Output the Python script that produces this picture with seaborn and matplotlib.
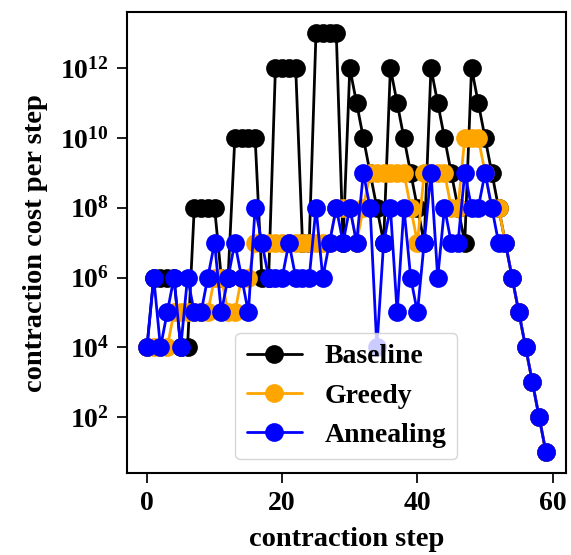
import matplotlib
matplotlib.use("Agg")
import matplotlib.pyplot as plt
import seaborn as sns
import numpy as np
from matplotlib.ticker import LogLocator, NullLocator

steps = list(range(60))

baseline = [1e4, 1e6, 1e6, 1e6, 1e6, 1e4, 1e4, 1e8, 1e8, 1e8, 1e8, 1e6, 1e6,
            1e10, 1e10, 1e10, 1e10, 1e6, 1e6, 1e12, 1e12, 1e12, 1e12, 1e7, 1e7,
            1e13, 1e13, 1e13, 1e13, 1e7,
            1e12, 1e11, 1e10, 1e9, 1e8, 1e7,
            1e12, 1e11, 1e10, 1e9, 1e8, 1e7,
            1e12, 1e11, 1e10, 1e9, 1e8, 1e7,
            1e12, 1e11, 1e10, 1e9, 1e8, 1e7,
            1e6, 1e5, 1e4, 1e3, 1e2, 1e1]

greedy = [1e4, 1e4, 1e4, 1e4, 1e5, 1e5, 1e5, 1e5, 1e5, 1e5, 1e6, 1e6, 1e5,
          1e5, 1e6, 1e6, 1e7, 1e7, 1e7, 1e7, 1e7, 1e7, 1e7, 1e7, 1e7, 1e7,
          1e7, 1e7, 1e8, 1e8, 1e8, 1e7, 1e8, 1e9, 1e9, 1e9, 1e9, 1e9, 1e9,
          1e8, 1e7, 1e9, 1e9, 1e9, 1e9, 1e8, 1e8, 1e10, 1e10, 1e10, 1e9,
          1e8, 1e8, 1e7, 1e6, 1e5, 1e4, 1e3, 1e2, 1e1]

annealing = [1e4, 1e6, 1e4, 1e5, 1e6, 1e4, 1e6, 1e5, 1e5, 1e6, 1e7, 1e5, 1e6,
             1e7, 1e6, 1e5, 1e8, 1e7, 1e6, 1e6, 1e6, 1e7, 1e6, 1e6, 1e6, 1e8,
             1e6, 1e7, 1e8, 1e7, 1e8, 1e7, 1e9, 1e8, 1e4, 1e7, 1e8, 1e5, 1e8,
             1e6, 1e5, 1e7, 1e9, 1e6, 1e8, 1e7, 1e7, 1e9, 1e8, 1e8, 1e9, 1e8,
             1e7, 1e7, 1e6, 1e5, 1e4, 1e3, 1e2, 1e1]

series_names = ["Baseline", "Greedy", "Annealing"]
series_colors = ["black", "orange", "blue"]

sns.set_style("white")
plt.rcParams["font.family"] = ["Liberation Serif", "DejaVu Serif"]
plt.rcParams["font.weight"] = "bold"
plt.rcParams["text.color"] = "black"
plt.rcParams["axes.labelcolor"] = "black"
plt.rcParams["xtick.color"] = "black"
plt.rcParams["ytick.color"] = "black"
plt.rcParams["mathtext.fontset"] = "custom"
plt.rcParams["mathtext.rm"] = "Liberation Serif:bold"
plt.rcParams["mathtext.bf"] = "Liberation Serif:bold"
plt.rcParams["mathtext.it"] = "Liberation Serif:bold:italic"
plt.rcParams["mathtext.default"] = "bf"

fig = plt.figure(figsize=(5.71, 5.55), dpi=100)
ax = fig.add_axes([0.2224, 0.1477, 0.991 - 0.2224, 0.978 - 0.1477])

for name, vals, col in zip(series_names, [baseline, greedy, annealing], series_colors):
    sns.lineplot(x=steps, y=vals, color=col, marker="o", markersize=13.5,
                 markeredgewidth=0, linewidth=2, label=name, ax=ax)

ax.set_yscale("log")
ax.yaxis.set_major_locator(LogLocator(base=100.0))
ax.yaxis.set_minor_locator(NullLocator())
ax.set_xticks([0, 20, 40, 60])

for sp in ax.spines.values():
    sp.set_visible(True)
    sp.set_color("black")
    sp.set_linewidth(1.5)

ax.tick_params(axis="both", which="major", direction="out", length=7, width=1.25,
               labelsize=20, colors="black", left=True, bottom=True, pad=6)
for lab in ax.get_xticklabels() + ax.get_yticklabels():
    lab.set_fontweight("bold")

ax.set_xlabel("contraction step", fontsize=20.5, fontweight="bold", labelpad=8)
ax.set_ylabel("contraction cost per step", fontsize=20.5, fontweight="bold", labelpad=9)

leg = ax.legend(loc="lower center", prop={"family": "Liberation Serif", "weight": "bold", "size": 20})

fig.savefig("out.png", dpi=100)
